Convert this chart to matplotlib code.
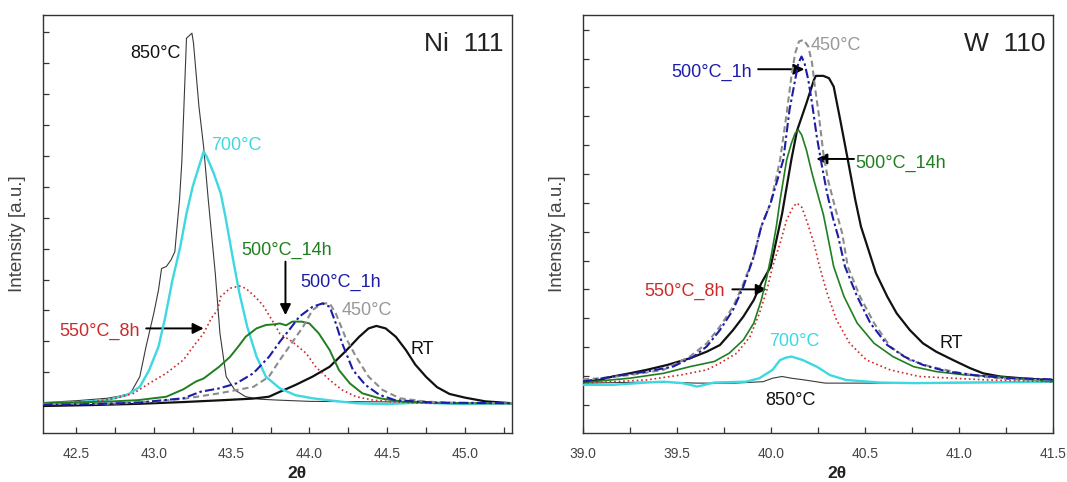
import matplotlib
matplotlib.use("Agg")
import matplotlib.pyplot as plt
from matplotlib.ticker import MultipleLocator, FormatStrFormatter

plt.rcParams['font.family'] = ['Liberation Sans', 'DejaVu Sans']

# ---------------- Ni 111 panel data (2theta, intensity a.u.) ----------------
ni_x_rt = [42.29, 42.60, 42.90, 43.20, 43.45, 43.64, 43.74, 43.81, 43.91, 44.02, 44.13, 44.23, 44.32, 44.38,
           44.43, 44.49, 44.555, 44.62, 44.68, 44.75, 44.82, 44.90, 45.00, 45.13, 45.30]
ni_y_rt = [-0.09, -0.06, -0.02, 0.04, 0.10, 0.15, 0.21, 0.37, 0.59, 0.86, 1.18, 1.67, 2.15, 2.42,
           2.50, 2.42, 2.15, 1.72, 1.25, 0.85, 0.52, 0.30, 0.18, 0.06, 0.0]

ni_x_450 = [42.29, 42.70, 43.00, 43.20, 43.42, 43.64, 43.74, 43.81, 43.87, 43.96, 44.02, 44.085, 44.13, 44.17,
            44.23, 44.30, 44.38, 44.47, 44.58, 44.75, 45.00, 45.30]
ni_y_450 = [-0.03, -0.02, 0.05, 0.15, 0.32, 0.53, 0.86, 1.40, 1.83, 2.48, 3.02, 3.23, 3.23, 2.90,
            2.15, 1.50, 0.86, 0.43, 0.16, 0.05, 0.0, 0.0]

ni_x_1h = [42.29, 42.60, 42.90, 43.19, 43.30, 43.42, 43.53, 43.64, 43.74, 43.81, 43.87, 43.935, 44.02, 44.085,
           44.13, 44.17, 44.21, 44.28, 44.36, 44.45, 44.55, 44.80, 45.30]
ni_y_1h = [-0.05, -0.03, 0.02, 0.16, 0.37, 0.48, 0.64, 0.97, 1.50, 1.99, 2.37, 2.80, 3.12, 3.23,
           3.12, 2.58, 1.94, 1.07, 0.59, 0.27, 0.10, 0.02, 0.0]

ni_x_14h = [42.29, 42.70, 42.90, 43.08, 43.19, 43.27, 43.32, 43.42, 43.49, 43.55, 43.59, 43.66, 43.72, 43.77,
            43.81, 43.85, 43.89, 43.95, 44.00, 44.06, 44.13, 44.19, 44.26, 44.34, 44.45, 44.60, 44.90, 45.30]
ni_y_14h = [0.0, 0.05, 0.10, 0.21, 0.45, 0.70, 0.80, 1.18, 1.50, 1.88, 2.15, 2.42, 2.53, 2.55,
            2.58, 2.52, 2.64, 2.64, 2.58, 2.26, 1.72, 1.07, 0.64, 0.32, 0.16, 0.05, 0.0, 0.0]

ni_x_550 = [42.29, 42.60, 42.75, 42.87, 42.97, 43.08, 43.19, 43.27, 43.32, 43.37, 43.41, 43.43, 43.49, 43.55,
            43.59, 43.65, 43.70, 43.77, 43.81, 43.89, 43.98, 44.04, 44.13, 44.21, 44.30, 44.41, 44.55,
            44.70, 45.00, 45.30]
ni_y_550 = [0.0, 0.05, 0.15, 0.32, 0.64, 0.97, 1.40, 1.94, 2.26, 2.75, 3.02, 3.45, 3.72, 3.79,
            3.72, 3.45, 3.18, 2.60, 2.25, 1.99, 1.61, 1.18, 0.75, 0.43, 0.21, 0.10, 0.04,
            0.0, 0.0, 0.0]

ni_x_700 = [42.29, 42.50, 42.70, 42.83, 42.91, 42.97, 43.03, 43.07, 43.12, 43.17, 43.21, 43.25, 43.32, 43.34,
            43.385, 43.43, 43.46, 43.51, 43.55, 43.60, 43.66, 43.72, 43.81, 43.91, 44.02, 44.15, 44.30, 44.50,
            44.70, 45.00, 45.30]
ni_y_700 = [0.0, 0.03, 0.10, 0.27, 0.53, 1.07, 1.83, 2.70, 3.99, 5.06, 6.14, 7.01, 8.14, 7.98,
            7.44, 6.79, 6.04, 4.63, 3.56, 2.48, 1.51, 0.86, 0.48, 0.26, 0.16, 0.08, 0.0, -0.03,
            0.02, -0.03, 0.0]

ni_x_850 = [42.29, 42.50, 42.70, 42.78, 42.85, 42.91, 42.95, 43.00, 43.03, 43.05, 43.08, 43.11, 43.135, 43.165,
            43.18, 43.195, 43.21, 43.245, 43.255, 43.29, 43.32, 43.35, 43.395, 43.425, 43.465, 43.52, 43.59,
            43.68, 43.80, 44.00, 44.30, 44.60, 45.00, 45.30]
ni_y_850 = [0.02, 0.08, 0.16, 0.23, 0.32, 0.86, 1.83, 2.91, 3.66, 4.36, 4.42, 4.63, 4.90, 6.58,
            7.80, 9.80, 11.81, 11.97, 11.65, 9.60, 8.30, 6.58, 4.20, 2.26, 0.86, 0.43, 0.21,
            0.13, 0.10, 0.06, 0.05, 0.04, 0.0, -0.02]

# ---------------- W 110 panel data ----------------
w_x_rt = [39.0, 39.09, 39.16, 39.25, 39.34, 39.45, 39.57, 39.66, 39.73, 39.80, 39.855, 39.91, 39.95, 40.0,
          40.03, 40.06, 40.11, 40.14, 40.19, 40.23, 40.24, 40.28, 40.31, 40.335, 40.37, 40.41, 40.45, 40.48,
          40.52, 40.56, 40.62, 40.67, 40.74, 40.81, 40.88, 40.97, 41.06, 41.13, 41.22, 41.33, 41.5]
w_y_rt = [-0.20, -0.14, -0.02, 0.09, 0.21, 0.38, 0.61, 0.84, 1.07, 1.59, 2.06, 2.63, 3.21, 3.79,
          4.70, 5.60, 7.50, 8.50, 9.45, 10.26, 10.40, 10.40, 10.32, 10.03, 8.87, 7.50, 6.10, 5.18,
          4.37, 3.56, 2.75, 2.17, 1.59, 1.13, 0.84, 0.55, 0.27, 0.09, -0.02, -0.08, -0.15]

w_x_450 = [39.0, 39.10, 39.25, 39.43, 39.57, 39.66, 39.73, 39.80, 39.855, 39.91, 39.95, 40.0, 40.05, 40.085,
           40.11, 40.13, 40.15, 40.175, 40.20, 40.22, 40.235, 40.255, 40.28, 40.305, 40.34, 40.38, 40.41,
           40.475, 40.55, 40.635, 40.74, 40.85, 40.97, 41.11, 41.29, 41.5]
w_y_450 = [-0.12, -0.08, 0.03, 0.21, 0.67, 1.13, 1.71, 2.40, 3.21, 4.14, 5.18, 6.00, 7.49, 9.10,
           10.38, 11.18, 11.59, 11.65, 11.42, 10.84, 10.03, 9.10, 7.72, 6.79, 5.90, 4.95, 3.79,
           2.75, 1.83, 1.02, 0.55, 0.32, 0.15, -0.02, -0.12, -0.15]

w_x_1h = [39.0, 39.16, 39.34, 39.48, 39.59, 39.66, 39.73, 39.80, 39.855, 39.91, 39.95, 40.0, 40.067, 40.10,
          40.13, 40.147, 40.164, 40.18, 40.20, 40.22, 40.245, 40.27, 40.30, 40.33, 40.36, 40.395, 40.46,
          40.53, 40.62, 40.71, 40.81, 40.94, 41.08, 41.26, 41.5]
w_y_1h = [-0.20, -0.02, 0.15, 0.32, 0.67, 1.02, 1.59, 2.29, 3.10, 4.14, 5.18, 6.00, 7.49, 9.22,
          10.26, 10.84, 11.07, 10.84, 10.26, 9.45, 8.30, 7.37, 6.33, 5.50, 4.80, 3.79, 2.75,
          1.83, 1.07, 0.67, 0.38, 0.15, 0.03, -0.08, -0.12]

w_x_14h = [39.0, 39.25, 39.43, 39.57, 39.70, 39.78, 39.855, 39.91, 39.95, 39.98, 40.005, 40.03, 40.05, 40.085,
           40.11, 40.13, 40.147, 40.165, 40.19, 40.22, 40.25, 40.28, 40.30, 40.335, 40.39, 40.46, 40.55,
           40.65, 40.76, 40.88, 41.04, 41.20, 41.5]
w_y_14h = [-0.23, -0.08, 0.09, 0.32, 0.50, 0.79, 1.25, 1.83, 2.63, 3.44, 4.25, 5.18, 6.10, 7.49,
           8.06, 8.41, 8.53, 8.35, 7.83, 7.02, 6.30, 5.60, 4.95, 3.79, 2.75, 1.83, 1.13,
           0.67, 0.32, 0.15, 0.03, -0.02, -0.20]

w_x_550 = [39.0, 39.34, 39.52, 39.66, 39.73, 39.82, 39.89, 39.94, 39.98, 40.01, 40.05, 40.085, 40.12, 40.14,
           40.165, 40.19, 40.23, 40.26, 40.30, 40.35, 40.42, 40.51, 40.635, 40.79, 40.97, 41.15, 41.5]
w_y_550 = [-0.25, -0.14, 0.03, 0.21, 0.44, 0.79, 1.36, 2.17, 2.98, 3.79, 4.60, 5.41, 5.87, 5.99,
           5.85, 5.41, 4.60, 3.79, 2.87, 1.94, 1.13, 0.55, 0.21, -0.02, -0.08, -0.14, -0.20]

w_x_700 = [39.0, 39.16, 39.34, 39.43, 39.53, 39.61, 39.70, 39.87, 39.94, 40.01, 40.05, 40.08, 40.11, 40.17,
           40.245, 40.315, 40.40, 40.58, 40.76, 41.11, 41.5]
w_y_700 = [-0.31, -0.31, -0.23, -0.20, -0.25, -0.37, -0.23, -0.20, -0.08, 0.21, 0.55, 0.63, 0.67, 0.55,
           0.32, 0.03, -0.14, -0.23, -0.25, -0.23, -0.20]

w_x_850 = [39.0, 39.3, 39.5, 39.61, 39.81, 39.96, 40.01, 40.06, 40.11, 40.18, 40.29, 40.54, 40.9, 41.2, 41.5]
w_y_850 = [-0.25, -0.22, -0.23, -0.25, -0.25, -0.20, -0.08, -0.02, -0.08, -0.14, -0.25, -0.25, -0.23, -0.22, -0.20]

# ---------------- styles ----------------
C_BLACK = '#111111'
C_850 = '#3a3a3a'
C_CYAN = '#3dd8e0'
C_GREEN = '#1f7f1f'
C_BLUE = '#1c1ca8'
C_GRAY = '#8c8c8c'
C_RED = '#cc2a2a'

fig = plt.figure(figsize=(10.67, 4.82), dpi=100)
axL = fig.add_axes([0.0406, 0.101, 0.439, 0.8679])
axR = fig.add_axes([0.5461, 0.101, 0.4405, 0.8679])


def draw(ax, d, green_lw):
    ax.plot(d['850'][0], d['850'][1], color=C_850, lw=0.8, zorder=3)
    ax.plot(d['rt'][0], d['rt'][1], color=C_BLACK, lw=1.6, zorder=3)
    ax.plot(d['700'][0], d['700'][1], color=C_CYAN, lw=1.7, zorder=4)
    ax.plot(d['550'][0], d['550'][1], color=C_RED, lw=1.2, linestyle=(0, (1.0, 1.7)), zorder=4)
    ax.plot(d['14h'][0], d['14h'][1], color=C_GREEN, lw=green_lw, zorder=5)
    ax.plot(d['450'][0], d['450'][1], color=C_GRAY, lw=1.5, linestyle=(0, (3.0, 1.8)), zorder=5)
    ax.plot(d['1h'][0], d['1h'][1], color=C_BLUE, lw=1.5, linestyle=(0, (4.5, 1.5, 1.2, 1.5)), zorder=6)


def style(ax, xlim, ylim, yt):
    ax.set_xlim(*xlim)
    ax.set_ylim(*ylim)
    ax.xaxis.set_major_locator(MultipleLocator(0.5))
    ax.xaxis.set_minor_locator(MultipleLocator(0.25))
    ax.xaxis.set_major_formatter(FormatStrFormatter('%.1f'))
    ax.set_yticks(yt)
    ax.set_yticklabels([])
    ax.tick_params(axis='both', which='both', direction='in', length=4.5, width=0.9,
                   color='#333333', top=False, right=False)
    ax.tick_params(axis='x', which='major', labelsize=10, labelcolor='#444444', pad=10)
    for s in ax.spines.values():
        s.set_color('#333333')
        s.set_linewidth(1.0)
    ax.set_ylabel('Intensity [a.u.]', fontsize=13.5, color='#444444')
    ax.yaxis.set_label_coords(-0.036, 0.478)
    ax.text(0.541, -0.0956, '2θ', transform=ax.transAxes, ha='center', va='center',
            fontsize=12.5, fontweight='bold', color='#222222')


ni = {'rt': (ni_x_rt, ni_y_rt), '450': (ni_x_450, ni_y_450), '1h': (ni_x_1h, ni_y_1h),
      '14h': (ni_x_14h, ni_y_14h), '550': (ni_x_550, ni_y_550), '700': (ni_x_700, ni_y_700),
      '850': (ni_x_850, ni_y_850)}
w = {'rt': (w_x_rt, w_y_rt), '450': (w_x_450, w_y_450), '1h': (w_x_1h, w_y_1h),
     '14h': (w_x_14h, w_y_14h), '550': (w_x_550, w_y_550), '700': (w_x_700, w_y_700),
     '850': (w_x_850, w_y_850)}

draw(axL, ni, 1.4)
draw(axR, w, 1.2)
style(axL, (42.29, 45.30), (-0.974, 12.56), list(range(0, 13)))
style(axR, (39.0, 41.5), (-1.99, 12.51), list(range(-1, 13)))

FS = 13
arrow = dict(arrowstyle='-|>', color='black', lw=1.4, mutation_scale=16, shrinkA=0, shrinkB=0)

# Ni labels
axL.text(0.982, 0.9147, 'Ni  111', transform=axL.transAxes, ha='right', va='baseline', fontsize=19, color='#222222')
axL.text(42.849, 11.16, '850°C', color=C_BLACK, fontsize=FS, va='baseline')
axL.text(43.37, 8.19, '700°C', color=C_CYAN, fontsize=FS, va='baseline')
axL.text(43.565, 4.80, '500°C_14h', color=C_GREEN, fontsize=FS, va='baseline')
axL.text(43.944, 3.77, '500°C_1h', color=C_BLUE, fontsize=FS, va='baseline')
axL.text(44.208, 2.85, '450°C', color='#999999', fontsize=FS, va='baseline')
axL.text(44.649, 1.59, 'RT', color=C_BLACK, fontsize=FS, va='baseline')
axL.text(42.394, 2.17, '550°C_8h', color=C_RED, fontsize=FS, va='baseline')
axL.annotate('', xy=(43.32, 2.42), xytext=(42.951, 2.42), arrowprops=arrow)
axL.annotate('', xy=(43.846, 2.85), xytext=(43.846, 4.58), arrowprops=arrow)

# W labels
axR.text(0.9855, 0.9147, 'W  110', transform=axR.transAxes, ha='right', va='baseline', fontsize=19, color='#222222')
axR.text(40.212, 11.28, '450°C', color='#999999', fontsize=FS, va='baseline')
axR.text(39.474, 10.38, '500°C_1h', color=C_BLUE, fontsize=FS, va='baseline')
axR.annotate('', xy=(40.179, 10.63), xytext=(39.933, 10.63), arrowprops=arrow)
axR.text(40.449, 7.20, '500°C_14h', color=C_GREEN, fontsize=FS, va='baseline')
axR.annotate('', xy=(40.243, 7.52), xytext=(40.443, 7.52), arrowprops=arrow)
axR.text(39.328, 2.77, '550°C_8h', color=C_RED, fontsize=FS, va='baseline')
axR.annotate('', xy=(39.979, 3.0), xytext=(39.796, 3.0), arrowprops=arrow)
axR.text(39.991, 1.02, '700°C', color=C_CYAN, fontsize=FS, va='baseline')
axR.text(40.899, 0.96, 'RT', color=C_BLACK, fontsize=FS, va='baseline')
axR.text(39.969, -1.0, '850°C', color=C_BLACK, fontsize=FS, va='baseline')

fig.savefig('out.png', dpi=100, facecolor='white')
